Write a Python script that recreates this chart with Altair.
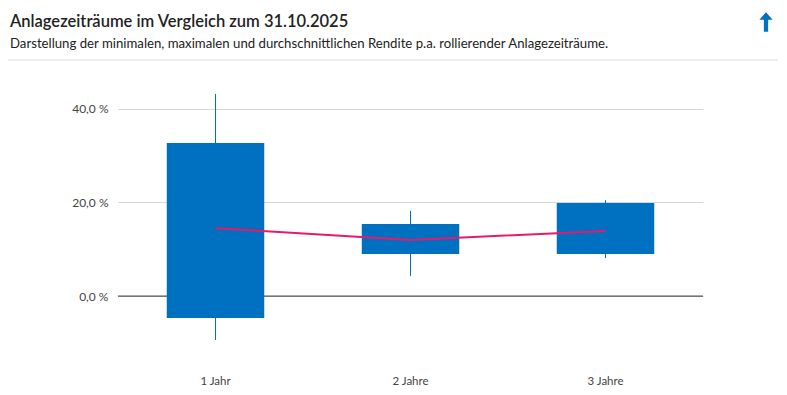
import altair as alt
import pandas as pd

categories = ["1 Jahr", "2 Jahre", "3 Jahre"]
min_vals = [-9.4, 4.3, 8.1]
box_low = [-4.7, 9.0, 9.0]
box_high = [32.7, 15.4, 19.9]
max_vals = [43.2, 18.2, 20.5]
mean_vals = [14.5, 12.0, 13.9]

title_text = "Anlagezeiträume im Vergleich zum 31.10.2025"
subtitle_text = "Darstellung der minimalen, maximalen und durchschnittlichen Rendite p.a. rollierender Anlagezeiträume."

df = pd.DataFrame({
    "cat": categories, "min": min_vals, "lo": box_low,
    "hi": box_high, "max": max_vals, "mean": mean_vals,
})

FONT = "Lato"
BLUE = "#0070c0"

xscale = alt.Scale(domain=categories, paddingInner=0.5, paddingOuter=0.25)
yscale = alt.Scale(domain=[-12.6, 45.1], nice=False, zero=False)

xaxis = alt.Axis(title=None, domain=False, ticks=False, labelAngle=0,
                 labelPadding=20, labelFontSize=11.5, labelColor="#444",
                 labelFont=FONT)
yaxis = alt.Axis(title=None, values=[0, 20, 40], domain=False, ticks=False,
                 grid=True, gridColor="#d6d6d6", labelPadding=10,
                 labelFontSize=12, labelColor="#444", labelFont=FONT,
                 labelExpr="replace(format(datum.value, '.1f'), '.', ',') + ' %'")

def X(band=None):
    if band is None:
        return alt.X("cat:N", scale=xscale, sort=categories, axis=xaxis, title=None)
    return alt.X("cat:N", scale=xscale, sort=categories, axis=xaxis, title=None, bandPosition=band)

def Y(field):
    return alt.Y(field, scale=yscale, axis=yaxis, title=None)

base = alt.Chart(df)

zero = alt.Chart(pd.DataFrame({"z": [0]})).mark_rule(color="#555", strokeWidth=1.3).encode(
    y=Y("z:Q")
)

wick = base.mark_rule(color=BLUE, strokeWidth=1).encode(
    x=X(0.5), y=Y("min:Q"), y2="max:Q"
)

box = base.mark_bar(color=BLUE).encode(
    x=X(), y=Y("lo:Q"), y2="hi:Q"
)

mean_line = base.mark_line(color="#e8196a", strokeWidth=2).encode(
    x=X(0.5), y=Y("mean:Q")
)

header_df = pd.DataFrame({"t": [title_text], "s": [subtitle_text]})
title_mark = alt.Chart(header_df).mark_text(
    align="left", baseline="alphabetic", fontSize=16.5, fontWeight=600, font=FONT, color="#222"
).encode(text="t:N", x=alt.value(-108), y=alt.value(-58))
sub_mark = alt.Chart(header_df).mark_text(
    align="left", baseline="alphabetic", fontSize=13.2, font=FONT, color="#222"
).encode(text="s:N", x=alt.value(-108), y=alt.value(-37))
divider = alt.Chart(header_df).mark_rule(color="#dddddd", strokeWidth=1).encode(
    x=alt.value(-110), x2=alt.value(662), y=alt.value(-25)
)
arrow_path = "M0,-1 L0.68,-0.22 L0.22,-0.22 L0.22,1 L-0.22,1 L-0.22,-0.22 L-0.68,-0.22 Z"
arrow = alt.Chart(header_df).mark_point(
    shape=arrow_path, size=380, filled=True, color=BLUE, opacity=1, strokeWidth=0
).encode(x=alt.value(648), y=alt.value(-63))

chart = alt.layer(
    zero, wick, box, mean_line, title_mark, sub_mark, divider, arrow
).properties(
    width=585, height=270,
    autosize=alt.AutoSizeParams(type="none"),
    padding={"left": 110, "top": 77, "right": 75, "bottom": 35},
).configure_view(stroke=None)

chart.save("out.html", embed_options={"renderer": "svg", "actions": False})
